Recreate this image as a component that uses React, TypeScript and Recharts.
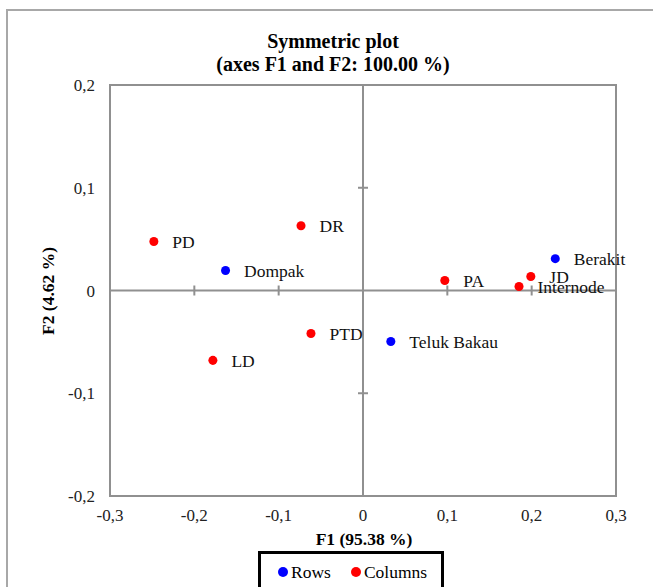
import React from "react";
import {
  ScatterChart,
  Scatter,
  XAxis,
  YAxis,
  ReferenceLine,
  ReferenceArea,
  ReferenceDot,
  LabelList,
} from "recharts";

const rowNames = ["Dompak", "Teluk Bakau", "Berakit"];
const rowF1 = [-0.163, 0.033, 0.228];
const rowF2 = [0.0195, -0.0496, 0.031];

const colNames = ["PD", "DR", "PTD", "LD", "PA", "Internode", "JD"];
const colF1 = [-0.248, -0.0735, -0.0617, -0.178, 0.097, 0.185, 0.199];
const colF2 = [0.0477, 0.063, -0.0418, -0.068, 0.0097, 0.0039, 0.0136];

const xTicks = [-0.3, -0.2, -0.1, 0, 0.1, 0.2, 0.3];
const yTicks = [-0.2, -0.1, 0, 0.1, 0.2];

const rows = rowNames.map((n, i) => ({ name: n, x: rowF1[i], y: rowF2[i] }));
const cols = colNames.map((n, i) => ({ name: n, x: colF1[i], y: colF2[i] }));

const FONT = '"Liberation Serif", "LiberationSerif", Times, "DejaVu Serif", serif';
const fmt = (v: number) => (v === 0 ? "0" : String(v).replace(".", ","));

const HTick = (props: any) => (
  <line x1={props.cx} x2={props.cx} y1={props.cy - 5} y2={props.cy + 5} stroke="#909090" strokeWidth={2} />
);
const VTick = (props: any) => (
  <line x1={props.cx - 5} x2={props.cx + 5} y1={props.cy} y2={props.cy} stroke="#909090" strokeWidth={2} />
);

export default function App() {
  return (
    <div style={{ position: "absolute", left: 0, top: 0, width: 653, height: 587, overflow: "hidden", background: "#fff" }}>
      <div
        style={{
          position: "absolute",
          left: 6,
          top: 9,
          width: 700,
          height: 700,
          borderLeft: "2px solid #a8a8a8",
          borderTop: "2px solid #a8a8a8",
        }}
      />
      <div
        style={{
          position: "absolute",
          left: 133,
          width: 400,
          top: 30,
          textAlign: "center",
          fontFamily: FONT,
          fontWeight: "bold",
          fontSize: 20,
          lineHeight: "23px",
          color: "#000",
        }}
      >
        Symmetric plot
        <br />
        (axes F1 and F2: 100.00 %)
      </div>
      <div
        style={{
          position: "absolute",
          left: 114,
          width: 500,
          top: 529,
          textAlign: "center",
          fontFamily: FONT,
          fontWeight: "bold",
          fontSize: 17.5,
          lineHeight: "20px",
          color: "#000",
        }}
      >
        F1 (95.38 %)
      </div>
      <div
        style={{
          position: "absolute",
          left: 48 - 60,
          top: 291 - 10,
          width: 120,
          textAlign: "center",
          fontFamily: FONT,
          fontWeight: "bold",
          fontSize: 17.5,
          lineHeight: "20px",
          color: "#000",
          transform: "rotate(-90deg)",
        }}
      >
        F2 (4.62 %)
      </div>
      <div
        style={{
          position: "absolute",
          left: 258,
          top: 551,
          width: 186,
          height: 44,
          border: "3px solid #000",
          boxSizing: "border-box",
          background: "#fff",
          fontFamily: FONT,
          fontSize: 17.5,
          color: "#000",
          display: "flex",
          alignItems: "center",
          paddingLeft: 17,
          paddingBottom: 2,
        }}
      >
        <span style={{ display: "inline-block", width: 10, height: 10, borderRadius: 5, background: "#0000ff", marginRight: 3 }} />
        <span style={{ marginRight: 20 }}>Rows</span>
        <span style={{ display: "inline-block", width: 10, height: 10, borderRadius: 5, background: "#ff0000", marginRight: 3 }} />
        <span>Columns</span>
      </div>
      <div style={{ position: "absolute", left: 0, top: 0 }}>
        <ScatterChart width={653} height={587} margin={{ top: 85, right: 37, bottom: 51, left: 0 }}>
          <XAxis
            type="number"
            dataKey="x"
            domain={[-0.3, 0.3]}
            ticks={xTicks}
            tickFormatter={fmt}
            axisLine={false}
            tickLine={false}
            tickSize={0}
            tickMargin={13}
            height={40}
            interval={0}
            tick={{ fontFamily: FONT, fontSize: 17, fill: "#222" }}
            allowDataOverflow
          />
          <YAxis
            type="number"
            dataKey="y"
            domain={[-0.2, 0.2]}
            ticks={yTicks}
            tickFormatter={fmt}
            axisLine={false}
            tickLine={false}
            tickSize={0}
            tickMargin={15}
            width={110}
            interval={0}
            tick={{ fontFamily: FONT, fontSize: 17, fill: "#222" }}
            allowDataOverflow
          />
          <ReferenceArea x1={-0.3} x2={0.3} y1={-0.2} y2={0.2} fill="none" stroke="#909090" strokeWidth={2} fillOpacity={0} />
          <ReferenceLine x={0} stroke="#909090" strokeWidth={2} />
          <ReferenceLine y={0} stroke="#909090" strokeWidth={2} />
          {xTicks
            .filter((t) => t !== 0 && Math.abs(t) < 0.3)
            .map((t) => (
              <ReferenceDot key={"xt" + t} x={t} y={0} r={0} shape={HTick} />
            ))}
          {yTicks
            .filter((t) => t !== 0 && Math.abs(t) < 0.2)
            .map((t) => (
              <ReferenceDot key={"yt" + t} x={0} y={t} r={0} shape={VTick} />
            ))}
          <Scatter name="Rows" data={rows} fill="#0000ff" isAnimationActive={false} shape="circle">
            <LabelList dataKey="name" position="right" offset={14} style={{ fontFamily: FONT, fontSize: 17.5, fill: "#111" }} />
          </Scatter>
          <Scatter name="Columns" data={cols} fill="#ff0000" isAnimationActive={false} shape="circle">
            <LabelList dataKey="name" position="right" offset={14} style={{ fontFamily: FONT, fontSize: 17.5, fill: "#111" }} />
          </Scatter>
        </ScatterChart>
      </div>
    </div>
  );
}
